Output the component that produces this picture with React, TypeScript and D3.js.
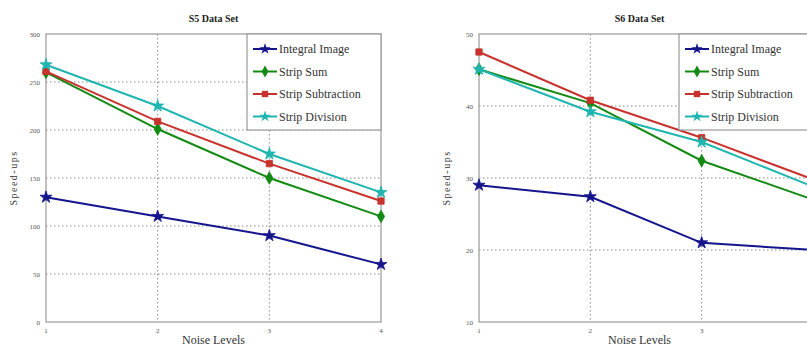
import React from 'react';
import * as d3 from 'd3';

const noiseLevels = [1, 2, 3, 4];
const seriesNames = ['Integral Image', 'Strip Sum', 'Strip Subtraction', 'Strip Division'];
const seriesColors = ['#14148c', '#138a13', '#c8322d', '#1fb5b0'];
const seriesSymbols = [d3.symbolStar, d3.symbolDiamond, d3.symbolSquare, d3.symbolStar];

// S5 data set
const s5Integral = [130, 110, 90, 60];
const s5StripSum = [260, 201, 150, 110];
const s5StripSub = [261, 209, 165, 126];
const s5StripDiv = [268, 225, 175, 135];
const s5Ticks = [0, 50, 100, 150, 200, 250, 300];

// S6 data set
const s6Integral = [29, 27.4, 21, 20];
const s6StripSum = [45.1, 40.4, 32.4, 27];
const s6StripSub = [47.5, 40.8, 35.6, 29.8];
const s6StripDiv = [45.1, 39.2, 35, 28.8];
const s6Ticks = [10, 20, 30, 40, 50];

const font = '"Times New Roman", "Liberation Serif", serif';

type PanelProps = {
  title: string;
  left: number;
  right: number;
  series: number[][];
  ticks: number[];
  legendX: number;
  legendW: number;
};

function Panel({ title, left, right, series, ticks, legendX, legendW }: PanelProps) {
  const top = 34;
  const bottom = 322;
  const x = d3.scaleLinear().domain([1, 4]).range([left, right]);
  const y = d3.scaleLinear().domain([ticks[0], ticks[ticks.length - 1]]).range([bottom, top]);
  const line = d3.line<number>().x((_, i) => x(noiseLevels[i])).y((d) => y(d));
  const cx = (left + Math.min(right, 800)) / 2;

  return (
    <g>
      <rect x={left} y={top} width={right - left} height={bottom - top} fill="#fff" />
      {ticks.map((t) => (
        <g key={'y' + t}>
          {t !== ticks[0] && t !== ticks[ticks.length - 1] && (
            <line x1={left} x2={right} y1={y(t)} y2={y(t)} stroke="#888" strokeDasharray="1.5,2.5" strokeWidth={1} />
          )}
          <text x={left - 6} y={y(t) + 2.5} fontSize={7} textAnchor="end" fill="#555" fontFamily={font}>{t}</text>
        </g>
      ))}
      {noiseLevels.map((n) => (
        <g key={'x' + n}>
          {n !== 1 && n !== 4 && (
            <line x1={x(n)} x2={x(n)} y1={top} y2={bottom} stroke="#888" strokeDasharray="1.5,2.5" strokeWidth={1} />
          )}
          {x(n) < 800 && (
            <text x={x(n)} y={bottom + 11} fontSize={7} textAnchor="middle" fill="#555" fontFamily={font}>{n}</text>
          )}
        </g>
      ))}
      <rect x={left} y={top} width={right - left} height={bottom - top} fill="none" stroke="#999" strokeWidth={1.2} />
      {series.map((vals, si) => (
        <g key={seriesNames[si]}>
          <path d={line(vals) || ''} fill="none" stroke={seriesColors[si]} strokeWidth={2} />
          {vals.map((v, i) => (
            <path
              key={i}
              transform={`translate(${x(noiseLevels[i])},${y(v)})`}
              d={d3.symbol(seriesSymbols[si], si === 2 ? 40 : 45)() || ''}
              fill={seriesColors[si]}
              stroke={seriesColors[si]}
              strokeWidth={0.8}
            />
          ))}
        </g>
      ))}
      <rect x={legendX} y={top} width={legendW} height={96} fill="#fff" stroke="#999" strokeWidth={1.2} />
      {seriesNames.map((name, i) => {
        const ly = top + 15 + i * 22.5;
        return (
          <g key={'lg' + name}>
            <line x1={legendX + 6} x2={legendX + 30} y1={ly} y2={ly} stroke={seriesColors[i]} strokeWidth={2} />
            <path
              transform={`translate(${legendX + 18},${ly})`}
              d={d3.symbol(seriesSymbols[i], 40)() || ''}
              fill={seriesColors[i]}
            />
            <text x={legendX + 32} y={ly + 4} fontSize={12} fill="#333" fontFamily={font}>{name}</text>
          </g>
        );
      })}
      <text x={cx} y={22} fontSize={10} fontWeight="bold" textAnchor="middle" fill="#222" fontFamily={font}>{title}</text>
      <text x={cx} y={344} fontSize={12} textAnchor="middle" fill="#333" fontFamily={font}>Noise Levels</text>
      <text
        transform={`translate(${left - 29},178) rotate(-90)`}
        fontSize={10}
        textAnchor="middle"
        fill="#333"
        fontFamily={font}
        letterSpacing={1.5}
      >
        Speed-ups
      </text>
    </g>
  );
}

export default function App() {
  React.useEffect(() => {
    document.body.style.margin = '0';
  }, []);
  return (
    <svg width={807} height={351} style={{ display: 'block', background: '#fff' }}>
      <Panel
        title="S5 Data Set"
        left={46}
        right={381}
        series={[s5Integral, s5StripSum, s5StripSub, s5StripDiv]}
        ticks={s5Ticks}
        legendX={247}
        legendW={134}
      />
      <Panel
        title="S6 Data Set"
        left={479}
        right={813}
        series={[s6Integral, s6StripSum, s6StripSub, s6StripDiv]}
        ticks={s6Ticks}
        legendX={679}
        legendW={134}
      />
    </svg>
  );
}
